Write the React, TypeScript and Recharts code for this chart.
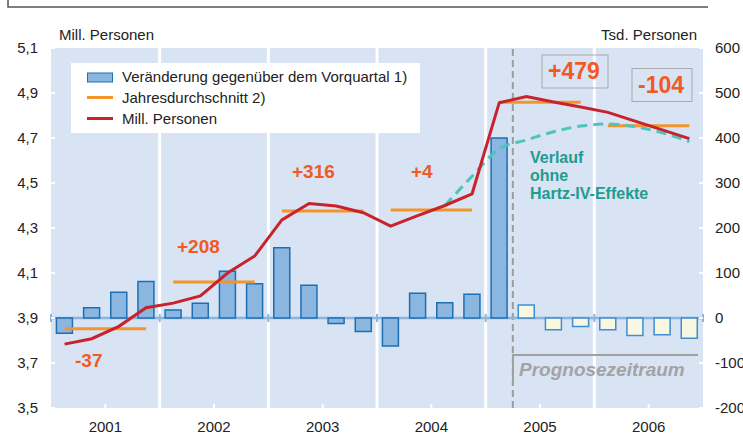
import React from "react";
import {
  ComposedChart,
  Bar,
  Line,
  Cell,
  XAxis,
  YAxis,
  CartesianGrid,
  ReferenceLine,
} from "recharts";

const FONT = "'Liberation Sans', Arial, sans-serif";

const YEARS = ["2001", "2002", "2003", "2004", "2005", "2006"];

const QUARTERS = [
  "2001 Q1", "2001 Q2", "2001 Q3", "2001 Q4",
  "2002 Q1", "2002 Q2", "2002 Q3", "2002 Q4",
  "2003 Q1", "2003 Q2", "2003 Q3", "2003 Q4",
  "2004 Q1", "2004 Q2", "2004 Q3", "2004 Q4",
  "2005 Q1", "2005 Q2", "2005 Q3", "2005 Q4",
  "2006 Q1", "2006 Q2", "2006 Q3", "2006 Q4",
];

// Veränderung gegenüber dem Vorquartal, Tsd. Personen (rechte Achse)
const CHANGE = [
  -34, 23, 57, 81,
  18, 33, 104, 76,
  156, 73, -12, -30,
  -62, 55, 34, 53,
  400, 29, -26, -19,
  -26, -39, -37, -45,
];

// Arbeitslose, Mill. Personen (linke Achse)
const MILL = [
  3.784, 3.808, 3.863, 3.946,
  3.966, 3.998, 4.1, 4.176,
  4.336, 4.409, 4.398, 4.368,
  4.308, 4.355, 4.4, 4.452,
  4.857, 4.884, 4.86, 4.838,
  4.814, 4.775, 4.736, 4.697,
];

// Verlauf ohne Hartz-IV-Effekte
const OHNE_HARTZ = [
  null, null, null, null,
  null, null, null, null,
  null, null, null, null,
  null, null, 4.4, 4.53,
  4.652, 4.691, 4.728, 4.753,
  4.762, 4.75, 4.723, 4.684,
];

// Jahresdurchschnitt, Mill. Personen
const YEAR_AVG = [3.852, 4.06, 4.376, 4.38, 4.859, 4.755];

const LEFT_TICKS = [3.5, 3.7, 3.9, 4.1, 4.3, 4.5, 4.7, 4.9, 5.1];
const RIGHT_TICKS = [-200, -100, 0, 100, 200, 300, 400, 500, 600];
const YEAR_TICKS = [2, 6, 10, 14, 18, 22];
const YEAR_BOUNDS = [4, 8, 12, 16, 20];
const ZERO_MARKS = [0, 4, 8, 12, 16, 20, 24];
const FORECAST_START = 17;

// pos = Mitte des Quartals auf der Hilfsachse 0..24
const rows = QUARTERS.map((q, i) => {
  const row: Record<string, any> = {
    q,
    pos: i + 0.5,
    chg: CHANGE[i],
    mill: MILL[i],
    ohne: OHNE_HARTZ[i],
  };
  row["avg" + Math.floor(i / 4)] = YEAR_AVG[Math.floor(i / 4)];
  return row;
});

const BG = "#d8e3f3";
const RED = "#c8232c";
const ORANGE = "#f4952b";
const TEAL = "#4cc5bb";
const LABEL = "#f15a24";

const LeftTick = (props: any) => {
  const { x, y, payload } = props;
  return (
    <g>
      <line x1={x + 13} x2={x + 17} y1={y} y2={y} stroke="#fff" strokeWidth={2} />
      <text x={x} y={y} dy="0.36em" textAnchor="end" fontSize={15} fill="#222" fontFamily={FONT}>
        {payload.value.toFixed(1).replace(".", ",")}
      </text>
    </g>
  );
};

const RightTick = (props: any) => {
  const { x, y, payload } = props;
  return (
    <g>
      <line x1={x - 16} x2={x - 12} y1={y} y2={y} stroke="#fff" strokeWidth={2} />
      <text x={x} y={y} dy="0.36em" textAnchor="start" fontSize={15} fill="#222" fontFamily={FONT}>
        {String(payload.value)}
      </text>
    </g>
  );
};

const YearTick = (props: any) => {
  const { x, y, payload } = props;
  return (
    <g>
      <line x1={x} x2={x} y1={y - 23} y2={y - 19} stroke="#fff" strokeWidth={2} />
      <text x={x} y={y} dy="0.36em" textAnchor="middle" fontSize={15} fill="#222" fontFamily={FONT}>
        {YEARS[Math.floor(payload.value / 4)]}
      </text>
    </g>
  );
};

export default function App() {
  return (
    <div style={{ position: "absolute", left: 0, top: 0, width: 743, height: 434, fontFamily: FONT }}>
      <ComposedChart
        width={743}
        height={434}
        data={rows}
        margin={{ top: 48, right: 0, bottom: 0, left: 0 }}
        barCategoryGap="20%"
      >
        <CartesianGrid xAxisId="n" yAxisId="left" horizontal={false} vertical={false} fill={BG} stroke="none" />
        <XAxis xAxisId="q" dataKey="q" type="category" hide />
        <XAxis
          xAxisId="n"
          dataKey="pos"
          type="number"
          domain={[0, 24]}
          allowDataOverflow
          ticks={YEAR_TICKS}
          height={26}
          axisLine={false}
          tickLine={false}
          tickSize={0}
          tickMargin={19}
          tick={<YearTick />}
        />
        <YAxis
          yAxisId="left"
          domain={[3.5, 5.1]}
          ticks={LEFT_TICKS}
          allowDataOverflow
          width={51}
          axisLine={false}
          tickLine={false}
          tickSize={0}
          tickMargin={13}
          tick={<LeftTick />}
        />
        <YAxis
          yAxisId="right"
          orientation="right"
          domain={[-200, 600]}
          ticks={RIGHT_TICKS}
          allowDataOverflow
          width={40}
          axisLine={false}
          tickLine={false}
          tickSize={0}
          tickMargin={12}
          tick={<RightTick />}
        />

        {YEAR_BOUNDS.map((b) => (
          <ReferenceLine key={"yb" + b} xAxisId="n" yAxisId="left" x={b} stroke="#fff" strokeWidth={3} zIndex={-90} />
        ))}
        <ReferenceLine
          xAxisId="n"
          yAxisId="left"
          x={FORECAST_START}
          stroke="#9c9c9c"
          strokeWidth={2}
          strokeDasharray="7 4"
          zIndex={-85}
        />
        <ReferenceLine xAxisId="n" yAxisId="right" y={0} stroke="#8cb5de" strokeWidth={2.5} zIndex={-80} />
        {ZERO_MARKS.map((m) => (
          <ReferenceLine
            key={"zm" + m}
            xAxisId="n"
            yAxisId="right"
            segment={[{ x: m, y: -9 }, { x: m, y: 9 }]}
            stroke="#8cb5de"
            strokeWidth={2}
            zIndex={-80}
          />
        ))}

        <Bar xAxisId="q" yAxisId="right" dataKey="chg" isAnimationActive={false} strokeWidth={1.5}>
          {rows.map((r, i) => (
            <Cell
              key={r.q}
              fill={i >= FORECAST_START ? "#f8f7e2" : "#8ab6e0"}
              stroke={i >= FORECAST_START ? "#3d8fd0" : "#1c6fb5"}
            />
          ))}
        </Bar>

        {YEARS.map((y, k) => (
          <Line
            key={"avg" + y}
            xAxisId="q"
            yAxisId="left"
            dataKey={"avg" + k}
            type="linear"
            stroke={ORANGE}
            strokeWidth={3}
            dot={false}
            isAnimationActive={false}
          />
        ))}
        <Line
          xAxisId="q"
          yAxisId="left"
          dataKey="ohne"
          type="monotone"
          stroke={TEAL}
          strokeWidth={3}
          strokeDasharray="10 6"
          dot={false}
          isAnimationActive={false}
        />
        <Line
          xAxisId="q"
          yAxisId="left"
          dataKey="mill"
          type="linear"
          stroke={RED}
          strokeWidth={3}
          dot={false}
          isAnimationActive={false}
        />
      </ComposedChart>

      <svg
        width={743}
        height={434}
        style={{ position: "absolute", left: 0, top: 0, pointerEvents: "none" }}
        fontFamily={FONT}
      >
        {/* frame of the title box, cut off at the top */}
        <polyline points="8,0 8,7 708,7" fill="none" stroke="#555" strokeWidth={1.5} />

        <text x={59} y={40} fontSize={15} fill="#222">Mill. Personen</text>
        <text x={697} y={40} fontSize={15} fill="#222" textAnchor="end">Tsd. Personen</text>

        {/* legend */}
        <rect x={71} y={63} width={349} height={70} fill="#fff" />
        <rect x={87.5} y={73} width={25} height={9} fill="#8ab6e0" stroke="#1c6fb5" strokeWidth={1} />
        <line x1={87} x2={113} y1={97.5} y2={97.5} stroke={ORANGE} strokeWidth={3} />
        <line x1={87} x2={113} y1={118.5} y2={118.5} stroke={RED} strokeWidth={3} />
        <text x={122} y={82} fontSize={15} fill="#222">Veränderung gegenüber dem Vorquartal 1)</text>
        <text x={122} y={103} fontSize={15} fill="#222">Jahresdurchschnitt 2)</text>
        <text x={122} y={124} fontSize={15} fill="#222">Mill. Personen</text>

        {/* annual changes */}
        <g fontWeight="bold" fill={LABEL} fontSize={19}>
          <text x={75} y={367}>-37</text>
          <text x={177} y={253}>+208</text>
          <text x={292} y={178}>+316</text>
          <text x={411} y={178}>+4</text>
        </g>
        <rect x={542} y={55} width={66} height={33} fill="none" stroke="#a9a9a9" strokeWidth={1} />
        <rect x={632} y={68.5} width={60} height={33} fill="none" stroke="#a9a9a9" strokeWidth={1} />
        <g fontWeight="bold" fill={LABEL} fontSize={23}>
          <text x={548} y={78.5}>+479</text>
          <text x={638} y={93}>-104</text>
        </g>

        <g fontWeight="bold" fill="#1f9b8f" fontSize={16}>
          <text x={530} y={162.5}>Verlauf</text>
          <text x={530} y={180.5}>ohne</text>
          <text x={530} y={198.5}>Hartz-IV-Effekte</text>
        </g>

        {/* Prognosezeitraum */}
        <polyline points="513,382 513,355 698,355" fill="none" stroke="#a0a0a0" strokeWidth={2} />
        <text x={519} y={376} fontSize={19} fontWeight="bold" fontStyle="italic" fill="#a3a3a3">
          Prognosezeitraum
        </text>
      </svg>
    </div>
  );
}
